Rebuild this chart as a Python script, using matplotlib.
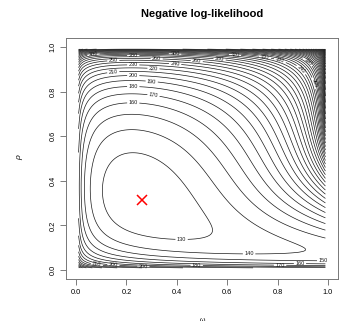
import numpy as np
import matplotlib
matplotlib.use("Agg")
import matplotlib.pyplot as plt

# ---- data: sites with y detections out of J visits (occupancy-type model) ----
visits = 5
detections = [0, 1, 2, 3, 4, 5]
site_counts = [78, 9, 8, 4, 1, 0]

omega_ticks = [0.0, 0.2, 0.4, 0.6, 0.8, 1.0]
rho_ticks = [0.0, 0.2, 0.4, 0.6, 0.8, 1.0]
level_step = 10
title = "Negative log-likelihood"


def nll(omega, rho):
    total = np.zeros_like(omega)
    for y, n in zip(detections, site_counts):
        if n == 0:
            continue
        b = rho ** y * (1 - rho) ** (visits - y)
        p = omega * b + (1 - omega) * (1.0 if y == 0 else 0.0)
        total = total - n * np.log(p)
    return total


w = np.linspace(0.01, 0.99, 197)
r = np.linspace(0.01, 0.99, 197)
W, R = np.meshgrid(w, r)
Z = nll(W, R)

zmin = np.nanmin(Z)
levels = np.arange(np.ceil(zmin / level_step) * level_step, np.nanmax(Z), level_step)
imin = np.unravel_index(np.nanargmin(Z), Z.shape)

# label anchor spots (layout only), in axis-data units
label_spots = [
    (0.069, 0.964), (0.227, 0.964), (0.393, 0.969), (0.32, 0.949),
    (0.148, 0.934), (0.479, 0.934), (0.227, 0.919), (0.393, 0.919),
    (0.307, 0.900), (0.148, 0.882), (0.227, 0.867), (0.300, 0.840),
    (0.227, 0.818), (0.307, 0.780), (0.227, 0.748), (0.631, 0.964),
    (0.750, 0.955), (0.810, 0.940), (0.920, 0.934), (0.896, 0.900),
    (0.948, 0.838), (0.570, 0.945),
    (0.419, 0.139), (0.687, 0.075), (0.082, 0.022), (0.148, 0.022),
    (0.267, 0.019), (0.479, 0.019), (0.810, 0.022), (0.889, 0.030),
    (0.981, 0.042),
]

plt.rcParams["font.family"] = ["Liberation Sans", "DejaVu Sans"]
fig = plt.figure(figsize=(3.41, 3.21), dpi=100)
ax = fig.add_axes([66 / 341, 1 - 279 / 321, 272 / 341, 241 / 321])

ax.set_xlim(-0.04, 1.04)
ax.set_ylim(-0.04, 1.04)

cs = ax.contour(W, R, Z, levels=levels, colors="#1a1a1a", linewidths=0.5)
ax.clabel(cs, fmt="%d", fontsize=4, inline=True, inline_spacing=1.5,
          manual=label_spots)
ax.plot(W[imin], R[imin], marker="x", color="red", markersize=6.5, mew=1.1, ls="none")

ax.set_xticks(omega_ticks)
ax.set_yticks(rho_ticks)
ax.set_xticklabels([f"{t:.1f}" for t in omega_ticks])
ax.set_yticklabels([f"{t:.1f}" for t in rho_ticks], rotation=90, va="center")
ax.tick_params(labelsize=5.3, length=4, width=0.6, color="#666666", pad=3)
for s in ax.spines.values():
    s.set_color("#777777")
    s.set_linewidth(0.7)

fig.text(202 / 341, 1 - 14 / 321, title, ha="center", va="center",
         fontsize=8, fontweight="bold")
fig.text(20 / 341, 1 - 158 / 321, "\u03c1", rotation=90, ha="center",
         va="center", fontsize=6, style="italic")
fig.text(202 / 341, 4 / 321, "\u03c9", ha="center", va="top", fontsize=5)

fig.savefig("out.png", dpi=100)
